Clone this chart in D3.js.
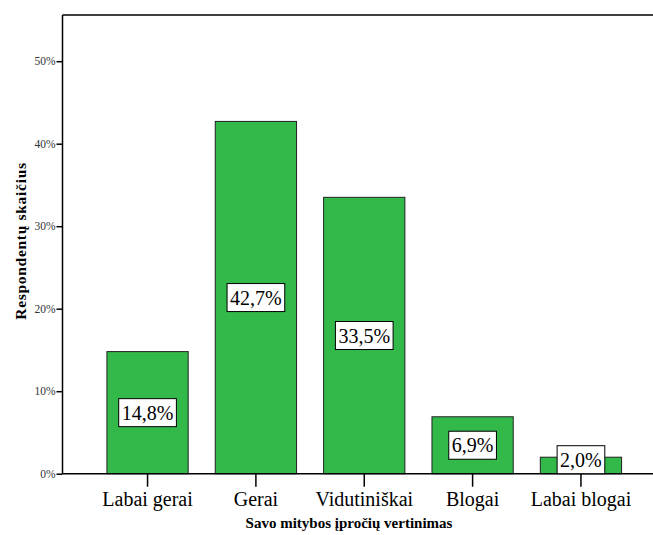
<!DOCTYPE html>
<html><head><meta charset="utf-8">
<script src="https://cdn.jsdelivr.net/npm/d3@7"></script>
<style>
body{margin:0;background:#fff;}
svg{display:block;}
svg text{font-family:"Liberation Serif","Times New Roman",Times,serif;}
</style></head>
<body>
<script>
const categories = ["Labai gerai","Gerai","Vidutiniškai","Blogai","Labai blogai"];
const values = [14.8, 42.7, 33.5, 6.9, 2.0];
const labels = ["14,8%","42,7%","33,5%","6,9%","2,0%"];
const yTicks = [0,10,20,30,40,50];
const xTitle = "Savo mitybos įpročių vertinimas";
const yTitle = "Respondentų skaičius";

const W = 653, H = 535;
const plotLeft = 62.5, plotTop = 15, plotBottom = 473.7;
const svg = d3.select("body").append("svg").attr("width", W).attr("height", H);

const x = d3.scaleBand().domain(categories).range([plotLeft, 666]).paddingInner(0.25).paddingOuter(0.41);
const y = d3.scaleLinear().domain([0, 50]).range([plotBottom, 61.2]);

// frame: top line
svg.append("line").attr("x1", plotLeft).attr("x2", W).attr("y1", plotTop).attr("y2", plotTop)
  .attr("stroke", "#000").attr("stroke-width", 1.5);

// bars
svg.selectAll("rect.bar").data(values).enter().append("rect")
  .attr("class", "bar")
  .attr("x", (d, i) => x(categories[i]))
  .attr("width", x.bandwidth())
  .attr("y", d => y(d))
  .attr("height", d => y(0) - y(d))
  .attr("fill", "#33b84a").attr("stroke", "#222").attr("stroke-width", 1);

// y axis
const ya = svg.append("g").attr("transform", `translate(${plotLeft},0)`)
  .call(d3.axisLeft(y).tickValues(yTicks).tickFormat(d => d + "%").tickSize(6).tickPadding(1));
ya.attr("font-family", null);
ya.select(".domain").attr("d", `M0,${plotTop}V${plotBottom}`).attr("stroke", "#000").attr("stroke-width", 1.5);
ya.selectAll(".tick line").attr("stroke", "#000").attr("stroke-width", 1.5);
ya.selectAll(".tick text").attr("font-size", 11.5).attr("fill", "#333");

// x axis
const xa = svg.append("g").attr("transform", `translate(0,${plotBottom})`)
  .call(d3.axisBottom(x).tickSize(13).tickPadding(5));
xa.attr("font-family", null);
xa.select(".domain").attr("d", `M${plotLeft},0H${W}`).attr("stroke", "#000").attr("stroke-width", 1.5);
xa.selectAll(".tick line").attr("stroke", "#000").attr("stroke-width", 1.5);
xa.selectAll(".tick text").attr("font-size", 20).attr("fill", "#000");

// value labels
const lg = svg.selectAll("g.lab").data(values).enter().append("g").attr("class", "lab");
lg.each(function(d, i) {
  const g = d3.select(this);
  const cx = x(categories[i]) + x.bandwidth() / 2;
  const bh = 28;
  let cy = (y(d) + y(0)) / 2;
  if (cy + bh / 2 > y(0)) cy = y(0) - bh / 2;
  const t = g.append("text").attr("x", cx).attr("y", cy + 7).attr("text-anchor", "middle")
    .attr("font-size", 20).attr("fill", "#000").text(labels[i]);
  const bw = t.node().getComputedTextLength() + 6;
  g.insert("rect", "text").attr("x", cx - bw / 2).attr("y", cy - bh / 2).attr("width", bw).attr("height", bh)
    .attr("fill", "#fff").attr("stroke", "#000").attr("stroke-width", 1);
});

// titles
svg.append("text").attr("x", 349).attr("y", 528).attr("text-anchor", "middle")
  .attr("font-weight", "bold").attr("font-size", 15).text(xTitle);
svg.append("text").attr("transform", "translate(26,241) rotate(-90)").attr("text-anchor", "middle")
  .attr("font-weight", "bold").attr("font-size", 15.5).attr("letter-spacing", 0.7).text(yTitle);
</script>
</body></html>
